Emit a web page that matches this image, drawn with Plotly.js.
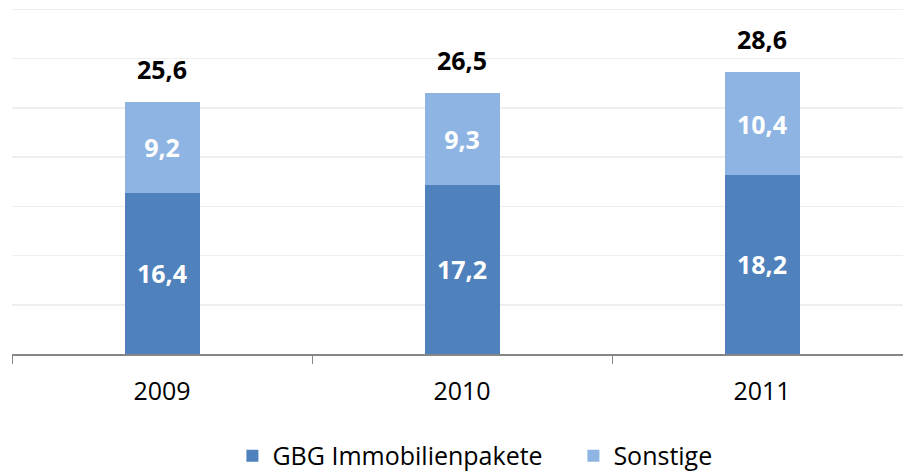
<!DOCTYPE html>
<html>
<head>
<meta charset="utf-8">
<script src="https://cdn.plot.ly/plotly-3.0.1.min.js"></script>
<style>html,body{margin:0;padding:0;background:#fff;}#chart{width:903px;height:472px;}</style>
</head>
<body>
<div id="chart"></div>
<script>
const years = ['2009', '2010', '2011'];
const gbg = [16.4, 17.2, 18.2];
const sonstige = [9.2, 9.3, 10.4];
const totals = [25.6, 26.5, 28.6];
const seriesNames = ['GBG Immobilienpakete', 'Sonstige'];

const fmt = v => v.toFixed(1).replace('.', ',');
const FONT = 'Open Sans, Noto Sans, sans-serif';

const traces = [
  {
    type: 'bar', name: seriesNames[0], x: years, y: gbg, width: 0.25,
    marker: {color: '#4F81BD'},
    text: gbg.map(fmt), textposition: 'inside', insidetextanchor: 'middle',
    textfont: {family: FONT, size: 25, color: '#ffffff', weight: 'bold'},
    hoverinfo: 'skip'
  },
  {
    type: 'bar', name: seriesNames[1], x: years, y: sonstige, width: 0.25,
    marker: {color: '#8EB4E3'},
    text: sonstige.map(fmt), textposition: 'inside', insidetextanchor: 'middle',
    textfont: {family: FONT, size: 25, color: '#ffffff', weight: 'bold'},
    hoverinfo: 'skip'
  }
];

const annotations = years.map((yr, i) => ({
  x: i, y: totals[i], xref: 'x', yref: 'y',
  text: fmt(totals[i]), showarrow: false,
  xanchor: 'center', yanchor: 'middle', yshift: 33,
  font: {family: FONT, size: 25, color: '#000000', weight: 'bold'}
}));

const layout = {
  width: 903, height: 472,
  margin: {l: 12, r: 0, t: 8, b: 118},
  barmode: 'stack',
  paper_bgcolor: '#ffffff', plot_bgcolor: '#ffffff',
  showlegend: true,
  legend: {
    orientation: 'h', xref: 'container', yref: 'container',
    x: 0.635, xanchor: 'center', y: 0.034, yanchor: 'middle',
    font: {family: FONT, size: 25, color: '#000000'},
    entrywidth: 296, entrywidthmode: 'pixels',
    traceorder: 'normal'
  },
  xaxis: {
    type: 'category', range: [-0.5, 2.47],
    tickson: 'boundaries', ticks: 'outside', ticklen: 8, tickcolor: '#868686', tickwidth: 1,
    ticklabelstandoff: 14,
    showline: true, linecolor: '#868686', linewidth: 1.5,
    showgrid: false,
    tickfont: {family: FONT, size: 25, color: '#000000'},
    fixedrange: true
  },
  yaxis: {
    range: [0, 35.15], dtick: 5, showticklabels: false,
    showgrid: true, gridcolor: '#EEEEEE', gridwidth: 1.5,
    zeroline: false, showline: false, fixedrange: true
  },
  annotations: annotations
};

Plotly.newPlot('chart', traces, layout, {displayModeBar: false, staticPlot: true});
</script>
</body>
</html>
